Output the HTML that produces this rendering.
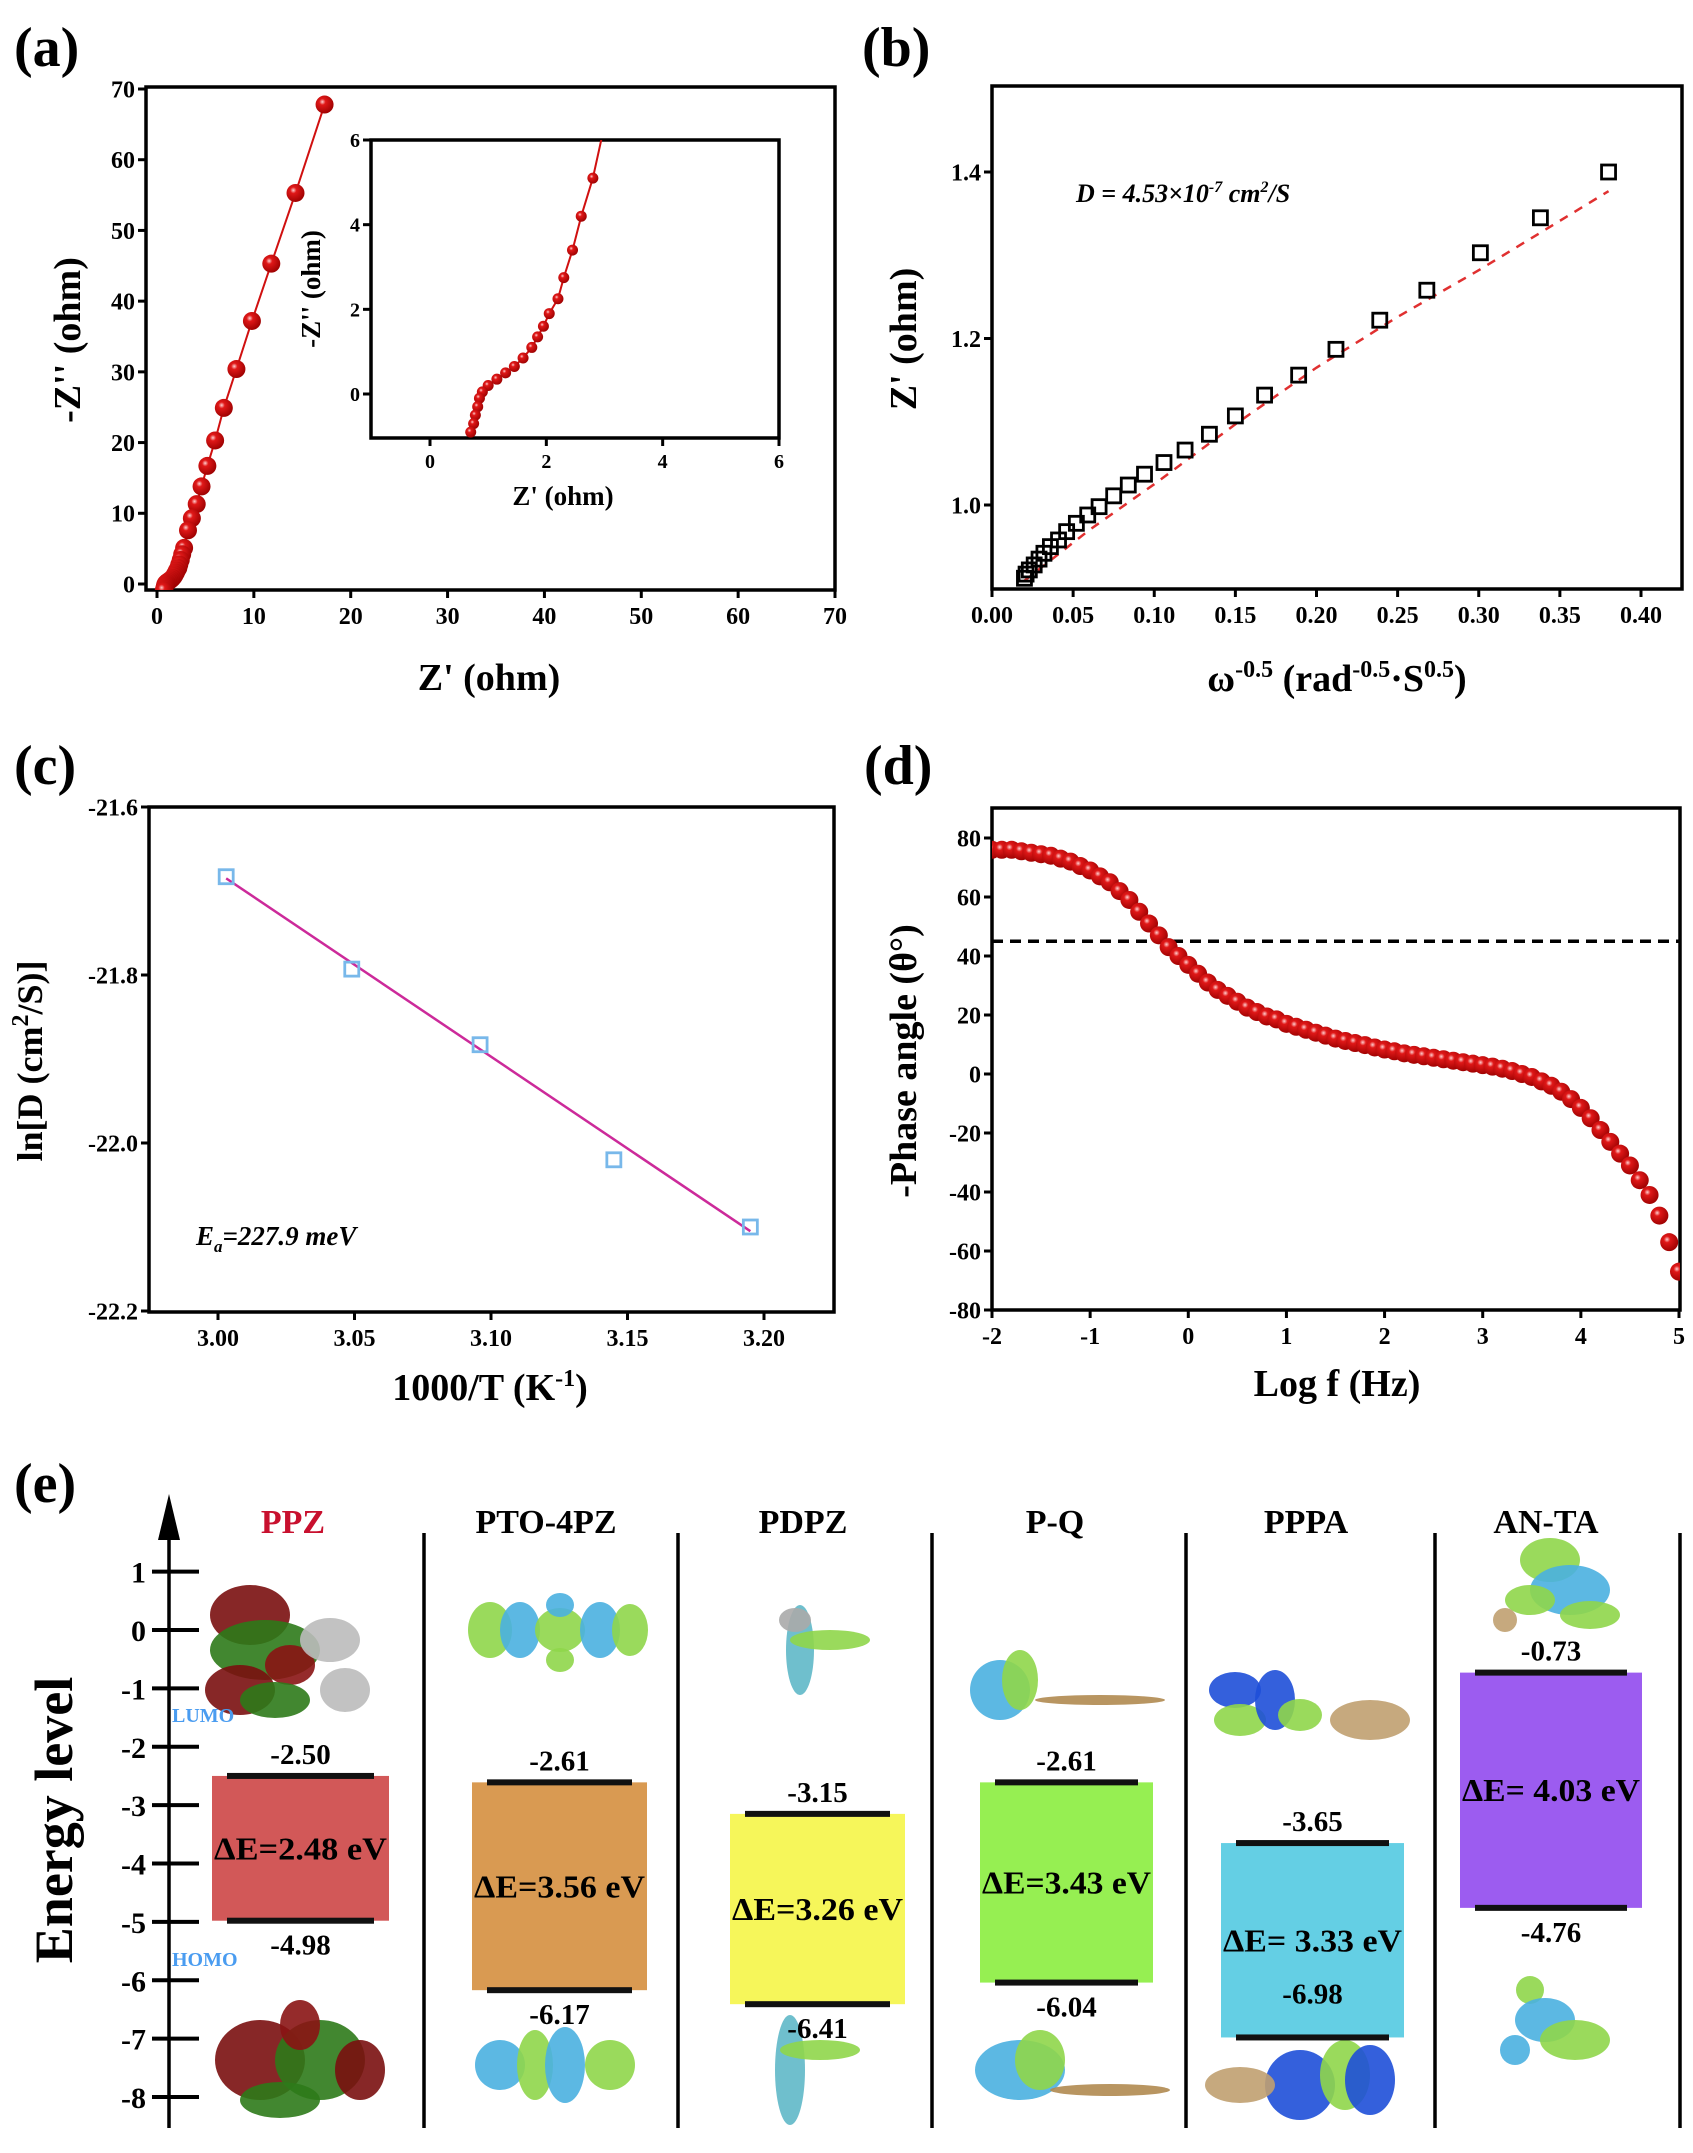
<!DOCTYPE html>
<html><head><meta charset="utf-8">
<style>
html,body{margin:0;padding:0;background:#fff;}
svg{display:block;font-family:"Liberation Serif",serif;font-weight:bold;}
</style></head>
<body>
<svg id="fig" width="1693" height="2153" viewBox="0 0 1693 2153" xmlns="http://www.w3.org/2000/svg">
<defs>
<radialGradient id="ball" cx="0.38" cy="0.35" r="0.7">
<stop offset="0" stop-color="#ffd0d0"/><stop offset="0.25" stop-color="#e01818"/><stop offset="1" stop-color="#9a0000"/>
</radialGradient>
<clipPath id="clipA"><rect x="146" y="87" width="689" height="503"/></clipPath>
<clipPath id="clipInset"><rect x="371" y="140" width="408" height="298"/></clipPath>
<clipPath id="clipD"><rect x="992" y="808" width="688" height="502"/></clipPath>
</defs>
<text x="14" y="66" font-size="56">(a)</text>
<text x="862" y="66" font-size="56">(b)</text>
<text x="14" y="784" font-size="56">(c)</text>
<text x="864" y="784" font-size="56">(d)</text>
<text x="14" y="1502" font-size="56">(e)</text>
<g id="gA"></g>
<g id="gB"></g>
<g id="gC"></g>
<g id="gD"></g>
<g id="gE"></g>
</svg>
<script>
// ---------- data ----------
const nyqZre = [17.3,14.3,11.8,9.8,8.2,6.9,6.0,5.2,4.6,4.1,3.6,3.2,2.8,2.6,2.45,2.3,2.2,2.05,1.95,1.85,1.75,1.6,1.45,1.3,1.15,1.0,0.9,0.85,0.82,0.78,0.75,0.7];
const nyqZim = [67.8,55.3,45.3,37.2,30.4,24.9,20.3,16.7,13.8,11.3,9.3,7.6,5.1,4.2,3.4,2.75,2.25,1.9,1.6,1.35,1.1,0.85,0.65,0.5,0.35,0.2,0.05,-0.1,-0.3,-0.5,-0.7,-0.9];
const aXTicks = [0,10,20,30,40,50,60,70];
const aYTicks = [0,10,20,30,40,50,60,70];
const insetXTicks = [0,2,4,6];
const insetYTicks = [0,2,4,6];

const wX = [0.380,0.338,0.301,0.268,0.239,0.212,0.189,0.168,0.150,0.134,0.119,0.106,0.094,0.084,0.075,0.066,0.059,0.052,0.046,0.041,0.036,0.032,0.029,0.026,0.023,0.021,0.020];
const wY = [1.400,1.345,1.303,1.258,1.222,1.187,1.156,1.132,1.107,1.085,1.066,1.051,1.037,1.024,1.011,0.998,0.988,0.978,0.968,0.958,0.950,0.942,0.935,0.928,0.922,0.917,0.912];
const wFitX = [0.02,0.06,0.10,0.15,0.20,0.25,0.30,0.38];
const wFitY = [0.909,0.970,1.025,1.097,1.165,1.226,1.282,1.377];
const bXTicks = [0.00,0.05,0.10,0.15,0.20,0.25,0.30,0.35,0.40];
const bYTicks = [1.0,1.2,1.4];

const arrT = [3.003,3.049,3.096,3.145,3.195];
const arrLnD = [-21.683,-21.793,-21.883,-22.020,-22.100];
const arrFitX = [3.003,3.195];
const arrFitY = [-21.685,-22.105];
const cXTicks = [3.00,3.05,3.10,3.15,3.20];
const cYTicks = [-21.6,-21.8,-22.0,-22.2];

const logF = [-2.0,-1.9,-1.8,-1.7,-1.6,-1.5,-1.4,-1.3,-1.2,-1.1,-1.0,-0.9,-0.8,-0.7,-0.6,-0.5,-0.4,-0.3,-0.2,-0.1,0.0,0.1,0.2,0.3,0.4,0.5,0.6,0.7,0.8,0.9,1.0,1.1,1.2,1.3,1.4,1.5,1.6,1.7,1.8,1.9,2.0,2.1,2.2,2.3,2.4,2.5,2.6,2.7,2.8,2.9,3.0,3.1,3.2,3.3,3.4,3.5,3.6,3.7,3.8,3.9,4.0,4.1,4.2,4.3,4.4,4.5,4.6,4.7,4.8,4.9,5.0];
const phase = [76,76,76,75.5,75,74.5,74,73,72,70.5,69,67,65,62,59,55,51,47,43,40,37,34,31,28.5,26.5,24.5,22.5,21,19.5,18.5,17,16,15,14,13,12,11.2,10.5,9.8,9,8.3,7.7,7,6.5,6,5.5,5,4.5,4,3.5,3,2.5,1.8,1,0,-1,-2.5,-4,-6,-8.5,-11.5,-15,-19,-23,-27,-31,-36,-41,-48,-57,-67];
const dXTicks = [-2,-1,0,1,2,3,4,5];
const dYTicks = [-80,-60,-40,-20,0,20,40,60,80];
const phaseRef = [45];

const mols = ["PPZ","PTO-4PZ","PDPZ","P-Q","PPPA","AN-TA"];
const lumo = [-2.50,-2.61,-3.15,-2.61,-3.65,-0.73];
const homo = [-4.98,-6.17,-6.41,-6.04,-6.98,-4.76];
const gapLabels = ["ΔE=2.48 eV","ΔE=3.56 eV","ΔE=3.26 eV","ΔE=3.43 eV","ΔE= 3.33 eV","ΔE= 4.03 eV"];
const eTicks = [1,0,-1,-2,-3,-4,-5,-6,-7,-8];

// ---------- helpers ----------
const NS = "http://www.w3.org/2000/svg";
function mk(parent, tag, attrs){const e=document.createElementNS(NS,tag);for(const k in attrs)e.setAttribute(k,attrs[k]);parent.appendChild(e);return e;}
function lin(d0,d1,r0,r1){return v=>r0+(v-d0)*(r1-r0)/(d1-d0);}
function fmt(v,dec){return v.toFixed(dec);}

function frame(g,x0,y0,x1,y1,sx,sy,xt,yt,xdec,ydec,fs,name){
  const r=mk(g,'rect',{x:x0,y:y0,width:x1-x0,height:y1-y0,fill:'none',stroke:'#000','stroke-width':3.5});
  
  
  xt.forEach(v=>{const x=sx(v);
    const l=mk(g,'line',{x1:x,x2:x,y1:y1,y2:y1+8,stroke:'#000','stroke-width':3});
    
    
    const t=mk(g,'text',{x:x,y:y1+10+fs,'font-size':fs,'text-anchor':'middle'});t.textContent=fmt(v,xdec);
    
    });
  yt.forEach(v=>{const y=sy(v);
    const l=mk(g,'line',{x1:x0-8,x2:x0,y1:y,y2:y,stroke:'#000','stroke-width':3});
    
    
    const t=mk(g,'text',{x:x0-11,y:y+fs*0.35,'font-size':fs,'text-anchor':'end'});t.textContent=fmt(v,ydec);
    
    });
}
function title(g,x,y,html,rot,fs,name){
  const t=mk(g,'text',{x:x,y:y,'font-size':fs,'text-anchor':'middle'});
  if(rot)t.setAttribute('transform','rotate(-90 '+x+' '+y+')');
  t.innerHTML=html;
  
  
  return t;
}

// ---------- panel a ----------
(function(){
  const g=document.getElementById('gA');
  const sx=lin(0,70,157,835), sy=lin(0,70,584,89);
  frame(g,146,87,835,590,sx,sy,aXTicks,aYTicks,0,0,24,'a');
  title(g,489,690,"Z' (ohm)",false,38,'a-x-axis-title');
  title(g,80,340,"-Z'' (ohm)",true,38,'a-y-axis-title');
  const cg=mk(g,'g',{'clip-path':'url(#clipA)'});
  const pts=nyqZre.map((v,i)=>sx(v)+','+sy(nyqZim[i])).join(' ');
  const pl=mk(cg,'polyline',{points:pts,fill:'none',stroke:'#d01010','stroke-width':2});
  
  
  nyqZre.forEach((v,i)=>{const c=mk(cg,'circle',{cx:sx(v),cy:sy(nyqZim[i]),r:9,fill:'url(#ball)'});
    
    });
  // inset
  const ix=lin(0,6,430,779), iy=lin(0,6,394,140);
  const bg=mk(g,'rect',{x:371,y:140,width:408,height:298,fill:'#fff'});
  
  
  frame(g,371,140,779,438,ix,iy,insetXTicks,insetYTicks,0,0,20,'inset');
  title(g,563,505,"Z' (ohm)",false,27,'inset-x-axis-title');
  title(g,320,289,"-Z'' (ohm)",true,27,'inset-y-axis-title');
  const ig=mk(g,'g',{'clip-path':'url(#clipInset)'});
  const ipts=nyqZre.map((v,i)=>ix(v)+','+iy(nyqZim[i])).join(' ');
  const ipl=mk(ig,'polyline',{points:ipts,fill:'none',stroke:'#d01010','stroke-width':2});
  
  
  nyqZre.forEach((v,i)=>{const c=mk(ig,'circle',{cx:ix(v),cy:iy(nyqZim[i]),r:5.5,fill:'url(#ball)'});
    
    });
})();

// ---------- panel b ----------
(function(){
  const g=document.getElementById('gB');
  const sx=lin(0,0.40,992,1641), sy=lin(1.0,1.4,505,172);
  frame(g,992,86,1682,589,sx,sy,bXTicks,bYTicks,2,1,24,'b');
  title(g,1337,691,'ω<tspan dy="-14" font-size="24">-0.5</tspan><tspan dy="14"> (rad</tspan><tspan dy="-14" font-size="24">-0.5</tspan><tspan dy="14">·S</tspan><tspan dy="-14" font-size="24">0.5</tspan><tspan dy="14">)</tspan>',false,38,'b-x-axis-title');
  title(g,916,339,"Z' (ohm)",true,38,'b-y-axis-title');
  const an=mk(g,'text',{x:1076,y:202,'font-size':26,'font-style':'italic'});
  an.innerHTML='D = 4.53×10<tspan dy="-10" font-size="16">-7</tspan><tspan dy="10"> cm</tspan><tspan dy="-10" font-size="16">2</tspan><tspan dy="10">/S</tspan>';
  
  
  const fp=wFitX.map((v,i)=>sx(v)+','+sy(wFitY[i])).join(' ');
  const fl=mk(g,'polyline',{points:fp,fill:'none',stroke:'#e03030','stroke-width':2.5,'stroke-dasharray':'9 8'});
  
  
  wX.forEach((v,i)=>{const r=mk(g,'rect',{x:sx(v)-7,y:sy(wY[i])-7,width:14,height:14,fill:'none',stroke:'#000','stroke-width':2.8});
    
    });
})();

// ---------- panel c ----------
(function(){
  const g=document.getElementById('gC');
  const sx=lin(3.00,3.20,218,764), sy=lin(-21.6,-22.2,807,1311);
  frame(g,149,807,834,1312,sx,sy,cXTicks,cYTicks,2,1,24,'c');
  title(g,490,1400,'1000/T (K<tspan dy="-14" font-size="24">-1</tspan><tspan dy="14">)</tspan>',false,38,'c-x-axis-title');
  title(g,42,1061,'ln[D (cm<tspan dy="-14" font-size="24">2</tspan><tspan dy="14">/S)]</tspan>',true,36,'c-y-axis-title');
  const an=mk(g,'text',{x:196,y:1245,'font-size':27,'font-style':'italic'});
  an.innerHTML='E<tspan dy="7" font-size="17">a</tspan><tspan dy="-7">=227.9 meV</tspan>';
  
  
  const fl=mk(g,'line',{x1:sx(arrFitX[0]),y1:sy(arrFitY[0]),x2:sx(arrFitX[1]),y2:sy(arrFitY[1]),stroke:'#cc2a9a','stroke-width':2.5});
  
  
  arrT.forEach((v,i)=>{const r=mk(g,'rect',{x:sx(v)-7,y:sy(arrLnD[i])-7,width:14,height:14,fill:'none',stroke:'#78b8ea','stroke-width':2.8});
    
    });
})();

// ---------- panel d ----------
(function(){
  const g=document.getElementById('gD');
  const sx=lin(-2,5,992,1679), sy=lin(80,-80,838,1310);
  frame(g,992,808,1680,1310,sx,sy,dXTicks,dYTicks,0,0,24,'d');
  title(g,1337,1396,'Log f (Hz)',false,38,'d-x-axis-title');
  title(g,916,1061,'-Phase angle (θ°)',true,38,'d-y-axis-title');
  const dl=mk(g,'line',{x1:992,x2:1680,y1:sy(phaseRef[0]),y2:sy(phaseRef[0]),stroke:'#000','stroke-width':3.5,'stroke-dasharray':'11 7'});
  
  
  const cg=mk(g,'g',{'clip-path':'url(#clipD)'});
  logF.forEach((v,i)=>{const c=mk(cg,'circle',{cx:sx(v),cy:sy(phase[i]),r:9,fill:'url(#ball)'});
    
    });
})();

// ---------- panel e ----------
(function(){
  const g=document.getElementById('gE');
  const sy=lin(0,-8,1630,2097);
  // orbital sketches (decorative) drawn first
  const blobs=[
    [250,1615,40,30,'#7a1010'],[265,1650,55,30,'#2e7a1a'],[240,1690,35,25,'#7a1010'],[290,1665,25,20,'#8a1414'],[275,1700,35,18,'#2e7a1a'],[330,1640,30,22,'#bbb'],[345,1690,25,22,'#bbb'],
    [490,1630,22,28,'#8fd64a'],[520,1630,20,28,'#4ab0e0'],[560,1630,25,22,'#8fd64a'],[600,1630,20,28,'#4ab0e0'],[630,1630,18,26,'#8fd64a'],[560,1605,14,12,'#4ab0e0'],[560,1660,14,12,'#8fd64a'],
    [800,1650,14,45,'#5fb8c8'],[830,1640,40,10,'#8fd64a'],[795,1620,16,12,'#aaa'],
    [1000,1690,30,30,'#4ab0e0'],[1020,1680,18,30,'#8fd64a'],[1100,1700,65,5,'#b08a50'],
    [1235,1690,26,18,'#1e4fd8'],[1240,1720,26,16,'#8fd64a'],[1275,1700,20,30,'#1e4fd8'],[1300,1715,22,16,'#8fd64a'],[1370,1720,40,20,'#c0a070'],
    [1550,1560,30,22,'#8fd64a'],[1570,1590,40,25,'#4ab0e0'],[1530,1600,25,15,'#8fd64a'],[1590,1615,30,14,'#8fd64a'],[1505,1620,12,12,'#c0a070'],
    [260,2060,45,40,'#7a1010'],[320,2060,45,40,'#2e7a1a'],[360,2070,25,30,'#7a1010'],[280,2100,40,18,'#2e7a1a'],[300,2025,20,25,'#8a1414'],
    [500,2065,25,25,'#4ab0e0'],[535,2065,18,35,'#8fd64a'],[565,2065,20,38,'#4ab0e0'],[610,2065,25,25,'#8fd64a'],
    [790,2070,15,55,'#5fb8c8'],[820,2050,40,10,'#8fd64a'],
    [1020,2070,45,30,'#4ab0e0'],[1040,2060,25,30,'#8fd64a'],[1110,2090,60,6,'#b08a50'],
    [1300,2085,35,35,'#1e4fd8'],[1345,2075,25,35,'#8fd64a'],[1370,2080,25,35,'#1e4fd8'],[1240,2085,35,18,'#c0a070'],
    [1530,1990,14,14,'#8fd64a'],[1545,2020,30,22,'#4ab0e0'],[1575,2040,35,20,'#8fd64a'],[1515,2050,15,15,'#4ab0e0']
  ];
  blobs.forEach(b=>{const e=mk(g,'ellipse',{cx:b[0],cy:b[1],rx:b[2],ry:b[3],fill:b[4],opacity:0.9});
    
    });
  const ax=169;
  const axl=mk(g,'line',{x1:ax,x2:ax,y1:1530,y2:2128,stroke:'#000','stroke-width':3.5});
  
  
  const ar=mk(g,'polygon',{points:(ax-11)+',1540 '+(ax+11)+',1540 '+ax+',1494',fill:'#000'});
  
  
  eTicks.forEach(v=>{const y=sy(v);
    const l=mk(g,'line',{x1:152,x2:199,y1:y,y2:y,stroke:'#000','stroke-width':4});
    
    
    const t=mk(g,'text',{x:146,y:y+11,'font-size':30,'text-anchor':'end'});t.textContent=String(v);
    
    });
  title(g,72,1820,'Energy level',true,54,'energy-axis-title');
  const lu=mk(g,'text',{x:172,y:1722,'font-size':20,fill:'#4a9cf0'});lu.textContent='LUMO';
  
  
  const ho=mk(g,'text',{x:172,y:1966,'font-size':20,fill:'#4a9cf0'});ho.textContent='HOMO';
  
  
  const seps=[424,678,932,1186,1435,1680];
  seps.forEach(x=>{const l=mk(g,'line',{x1:x,x2:x,y1:1533,y2:2128,stroke:'#000','stroke-width':3.5});
    
    });
  const boxL=[212,472,730,980,1221,1460], boxR=[389,647,905,1153,1404,1642];
  const cols=['#d25858','#d99a52','#f6f65a','#96ef52','#64cfe4','#9c5cf0'];
  const titleX=[293,546,803,1055,1306,1546];
  mols.forEach((m,i)=>{
    const t=mk(g,'text',{x:titleX[i],y:1533,'font-size':34,'text-anchor':'middle',fill:i===0?'#c8102e':'#000'});t.textContent=m;
    
    
    const yt=sy(lumo[i]), yb=sy(homo[i]);
    const b=mk(g,'rect',{x:boxL[i],y:yt,width:boxR[i]-boxL[i],height:yb-yt,fill:cols[i]});
    
    
    [yt,yb].forEach(y=>{const l=mk(g,'rect',{x:boxL[i]+15,y:y-3,width:boxR[i]-boxL[i]-30,height:6,fill:'#111'});
      
      });
    const cx=(boxL[i]+boxR[i])/2;
    const lt=mk(g,'text',{x:cx,y:yt-12,'font-size':29,'text-anchor':'middle'});lt.textContent=lumo[i].toFixed(2);
    
    
    const hy = i===4 ? yb-34 : yb+34;
    const ht=mk(g,'text',{x:cx,y:hy,'font-size':29,'text-anchor':'middle'});ht.textContent=homo[i].toFixed(2);
    
    
    const gt=mk(g,'text',{x:cx,y:(yt+yb)/2+11,'font-size':32,'text-anchor':'middle',textLength:boxR[i]-boxL[i]-4,lengthAdjust:'spacingAndGlyphs'});gt.textContent=gapLabels[i];
    
    
  });
})();
</script>
</body></html>
